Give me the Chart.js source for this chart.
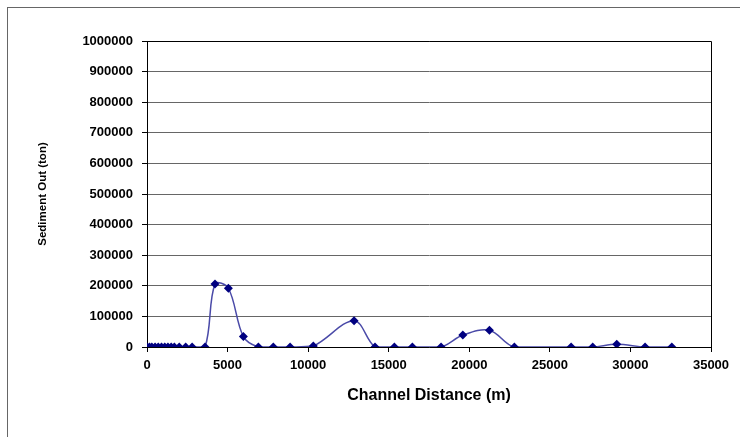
<!DOCTYPE html>
<html>
<head>
<meta charset="utf-8">
<script src="https://cdn.jsdelivr.net/npm/chart.js@4/dist/chart.umd.min.js"></script>
<style>
  html, body { margin: 0; padding: 0; background: #fff; }
  #wrap { position: relative; width: 740px; height: 437px; overflow: hidden; }
  #frame { position: absolute; left: 7px; top: 7px; right: -2px; bottom: -2px;
           border-top: 1px solid #666; border-left: 1px solid #666; }
  canvas { position: absolute; left: 0; top: 0; }
</style>
</head>
<body>
<div id="wrap">
  <div id="frame"></div>
  <canvas id="c" width="740" height="437"></canvas>
</div>
<script>
// channel distance (m) and sediment out (ton)
const distance = [0, 150, 300, 500, 700, 900, 1100, 1300, 1500, 1700, 2000, 2400, 2800, 3600,
  4220, 5050, 5980, 6910, 7840, 8880, 10320, 12850, 14150, 15350, 16470, 18250,
  19600, 21250, 22800, 26320, 27660, 29150, 30910, 32570];
const sediment = [0, 0, 0, 0, 0, 0, 0, 0, 0, 0, 0, 0, 0, 0,
  206000, 192000, 34000, 0, 0, 0, 3000, 86000, 0, 0, 0, 0,
  39000, 55000, 0, 0, 0, 9000, 0, 0];

const points = distance.map((x, i) => ({ x, y: sediment[i] }));

const boxPlugin = {
  id: 'box',
  afterDraw(chart) {
    const { ctx, chartArea: a } = chart;
    ctx.save();
    ctx.strokeStyle = '#000';
    ctx.lineWidth = 1;
    ctx.beginPath();
    ctx.moveTo(a.left, a.top + 0.5);
    ctx.lineTo(a.right + 0.5, a.top + 0.5);
    ctx.lineTo(a.right + 0.5, a.bottom);
    ctx.stroke();
    ctx.restore();
  }
};

const font = { family: '"Liberation Sans", Arial, sans-serif', weight: 'bold' };
const plain = (v) => String(v);

new Chart(document.getElementById('c'), {
  type: 'scatter',
  data: {
    datasets: [{
      data: points,
      showLine: true,
      tension: 0.35,
      borderColor: '#4a4aa8',
      borderWidth: 1.5,
      pointStyle: 'rectRot',
      pointRadius: 4.5,
      pointBackgroundColor: '#000080',
      pointBorderColor: '#000080',
      pointBorderWidth: 0
    }]
  },
  options: {
    responsive: false,
    animation: false,
    layout: { padding: { left: 0, top: 41, right: 29, bottom: 0 } },
    plugins: { legend: { display: false }, tooltip: { enabled: false } },
    scales: {
      x: {
        type: 'linear',
        min: 0, max: 35000,
        afterFit(s) { s.height = 90; },
        ticks: { stepSize: 5000, color: '#000', padding: 6, maxRotation: 0,
                 callback: plain, font: { ...font, size: 13 } },
        grid: { drawOnChartArea: false, tickLength: 5, tickColor: '#000' },
        border: { color: '#000', width: 1 },
        title: { display: true, text: 'Channel Distance (m)', color: '#000',
                 padding: { bottom: 32 }, font: { ...font, size: 16 } }
      },
      y: {
        min: 0, max: 1000000,
        afterFit(s) { s.width = 147; },
        ticks: { stepSize: 100000, color: '#000', padding: 9,
                 callback: plain, font: { ...font, size: 13 } },
        grid: { color: '#666', lineWidth: 1, tickLength: 5, tickColor: '#000' },
        border: { color: '#000', width: 1 },
        title: { display: true, text: 'Sediment Out (ton)', color: '#000',
                 padding: { top: 36 }, font: { ...font, size: 11.5 } }
      }
    }
  },
  plugins: [boxPlugin]
});
</script>
</body>
</html>
